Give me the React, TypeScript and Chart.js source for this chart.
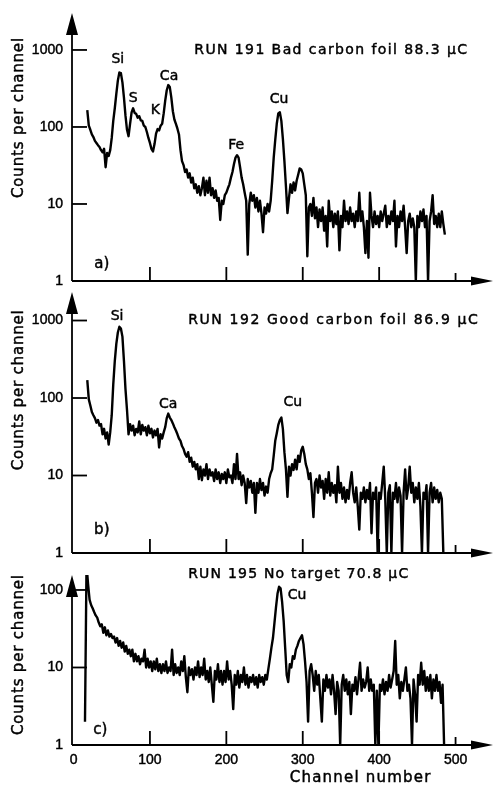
import { useEffect, useRef } from 'react';
import { Chart, registerables } from 'chart.js';

Chart.register(...registerables);

// ---------- data (counts per channel; one sample every 2 channels) ----------
const channelStep = 2;

const run191Start = 18;
const run191Counts = [
  166, 104, 92, 80, 74, 66, 62, 58, 55, 50,
  47, 52, 30, 46, 42, 50, 72, 120, 175, 270,
  400, 510, 500, 380, 240, 140, 92, 76, 110, 155,
  175, 152, 148, 132, 138, 122, 120, 104, 100, 86,
  72, 62, 52, 48, 60, 82, 94, 90, 104, 110,
  150, 220, 300, 350, 330, 240, 160, 125, 110, 95,
  80, 50, 36, 32, 26, 28, 22, 25, 19, 22,
  16, 18, 14, 17, 13, 16, 22, 13, 20, 14,
  22, 13, 16, 12, 15, 11, 12, 6.2, 11, 10,
  13, 14, 16, 18, 22, 26, 33, 40, 43, 40,
  30, 22, 18, 14, 11, 2.2, 10, 14, 11, 13,
  9, 12, 8, 11, 7.5, 4.3, 9, 7.5, 10, 8,
  11, 20, 40, 68, 110, 150, 155, 120, 70, 36,
  17, 7.6, 12, 18, 14, 19, 15, 20, 24, 29,
  28, 25, 18, 13, 2.1, 9, 10, 7, 12, 6.5,
  9, 5, 8.5, 6, 9, 4.5, 7, 2.8, 11, 6,
  8, 5, 7.5, 5.5, 8, 2.5, 7, 5, 11, 6,
  8, 5.5, 9, 6, 7.5, 5, 8, 6, 14, 6,
  8, 5, 2.3, 6, 2, 14, 7, 5, 8, 5.5,
  7, 5, 8, 6, 7.5, 9.5, 5, 7, 5.5, 8,
  6, 11, 2.8, 7, 5, 8, 6, 9.5, 5, 2.3,
  6, 7.5, 5, 6.5, 5, 1, 7, 5, 8, 6,
  8.5, 5, 7, 1, 6, 8, 13, 5.5, 7, 5,
  7.5, 5, 8, 5.5, 4,
];

const run192Start = 18;
const run192Counts = [
  170, 96, 80, 66, 60, 55, 48, 52, 44, 46,
  34, 40, 30, 36, 25, 36, 60, 150, 300, 500,
  700, 830, 790, 620, 300, 130, 70, 34, 46, 38,
  44, 33, 40, 36, 50, 34, 45, 38, 42, 33,
  44, 35, 40, 31, 38, 33, 40, 23, 34, 30,
  36, 42, 55, 63, 56, 52, 47, 42, 38, 34,
  30, 28, 24, 22, 19, 17.5, 20, 15, 17, 13,
  15, 12, 14, 9, 13, 8.7, 12, 10, 14, 9,
  12, 10, 11, 8.5, 12, 9, 11, 8, 10.5, 9,
  11, 8, 12, 9.5, 10, 8, 14, 9, 19, 9,
  11, 7.5, 10, 8, 4.4, 9, 7, 8.5, 6, 8,
  3.3, 8, 6, 9, 6.5, 8, 5.5, 7.2, 6, 9,
  10.7, 12, 18, 28, 35, 45, 52, 56, 40, 20,
  12, 5.3, 13, 10, 14, 11.8, 16, 12, 18, 15,
  21, 23.5, 19, 14, 12, 9, 10.7, 6, 2.9, 8,
  9, 6, 10, 7, 8.5, 5, 9, 6, 11, 5.5,
  8, 6, 7.5, 4.5, 13, 6, 8, 5, 7, 4.5,
  6.5, 5, 8, 11, 6, 4.5, 7, 4, 2, 6,
  5, 7, 4.5, 6.5, 5, 8, 1.8, 6, 5, 7,
  1, 6, 5, 8, 13, 5, 1, 6, 7.5, 1,
  6, 5, 8, 4.5, 7, 5.5, 1, 6, 12, 5,
  7, 13, 6, 8, 4.5, 7, 5, 8, 4, 1,
  6, 5, 7.5, 1, 6, 8, 4.5, 7, 5, 6.5,
  4.5, 6, 5, 1,
];

const run195Start = 15;
const run195Counts = [
  2, 210, 120, 75, 64, 58, 52, 47, 44, 38,
  34, 36, 28, 33, 26, 30, 25, 27, 24, 25,
  21, 24, 19, 22, 18, 21, 16, 19, 15, 17,
  14, 17, 12, 15, 12, 14, 11, 13, 12, 17,
  10, 13, 10, 12, 9, 12, 9.5, 13, 9, 11,
  8.5, 11, 9, 12, 8.5, 10, 9, 17, 8, 11,
  8.5, 10, 8, 12, 9, 14, 7.5, 4.8, 10, 8,
  9.5, 7, 10, 8, 12, 7.5, 10, 8, 13, 7,
  9, 6.5, 10, 6, 3.6, 9, 7, 11, 6.5, 9,
  6, 9, 6.5, 12, 7, 9, 6, 2.9, 8, 6,
  9, 5.5, 8, 6.5, 10, 6, 8, 5.5, 7.5, 6.5,
  8, 6, 7.5, 5.5, 8, 6.5, 7.5, 6, 8, 7,
  9.6, 13, 18, 24, 38, 60, 90, 110, 105, 70,
  40, 18, 8, 6.5, 11, 10, 14, 13, 17, 19,
  22, 24, 26, 20, 12, 6.5, 2, 9, 11, 8,
  5, 9, 6, 8, 4, 2, 7, 5, 8, 5.5,
  7, 4.5, 8, 5, 2.5, 6.5, 5, 1, 6, 8,
  5, 7, 4.5, 6.5, 2.5, 6, 5, 7.5, 4.5, 7,
  11.5, 5, 7, 5.5, 6.5, 10, 5, 7, 5, 6,
  1, 5, 1, 6, 5, 7, 4.5, 6.5, 5, 8,
  5.5, 7, 9, 22, 6, 8, 4, 6.5, 5, 7,
  10, 5, 6, 4, 1, 7, 4.5, 2, 8, 6,
  11.5, 6, 9, 5, 7.5, 5, 8, 4, 7, 5,
  8, 5, 6.5, 3.5, 6, 1,
];

const decadeTicks = [1, 10, 100, 1000];
const channelTicks = [0, 100, 200, 300, 400, 500];

// peak annotations: [label, channel, counts]
const peaks191: [string, number, number][] = [
  ['Si', 58, 760], ['S', 78, 238], ['K', 107, 166], ['Ca', 125, 460], ['Fe', 213, 58], ['Cu', 269, 230],
];
const peaks192: [string, number, number][] = [
  ['Si', 57, 1140], ['Ca', 124, 84], ['Cu', 287, 89],
];
const peaks195: [string, number, number][] = [['Cu', 292.5, 86]];

const FONT = '"DejaVu Sans", sans-serif';
const NUMFONT = '"Liberation Sans", sans-serif';

type PanelCfg = {
  top: number; height: number; padTop: number; padBottom: number;
  yMax: number; start: number; counts: number[];
  title: string; titleFrom: number; titleTo: number; titleLevel: number;
  peaks: [string, number, number][];
  letter: string; letterAt: [number, number];
  yTitleLevel: number;
  xLabels: boolean;
};

const panels: PanelCfg[] = [
  {
    top: 0, height: 300, padTop: 13, padBottom: 19, yMax: 3020,
    start: run191Start, counts: run191Counts,
    title: 'RUN 191 Bad carbon foil 88.3 µC', titleFrom: 158, titleTo: 515, titleLevel: 1000,
    peaks: peaks191, letter: 'a)', letterAt: [37, 1.66], yTitleLevel: 131, xLabels: false,
  },
  {
    top: 285, height: 285, padTop: 7, padBottom: 17, yMax: 2333,
    start: run192Start, counts: run192Counts,
    title: 'RUN 192 Good carbon foil 86.9 µC', titleFrom: 150, titleTo: 529, titleLevel: 1000,
    peaks: peaks192, letter: 'b)', letterAt: [37, 2.0], yTitleLevel: 126, xLabels: false,
  },
  {
    top: 568, height: 217, padTop: 7, padBottom: 40, yMax: 156,
    start: run195Start, counts: run195Counts,
    title: 'RUN 195 No target 70.8 µC', titleFrom: 150, titleTo: 438, titleLevel: 160,
    peaks: peaks195, letter: 'c)', letterAt: [35, 1.56], yTitleLevel: 14.5, xLabels: true,
  },
];

// filled + lightly stroked text, to get the heavy lettering of the printed figure
function inkText(ctx: CanvasRenderingContext2D, text: string, x: number, y: number) {
  ctx.fillText(text, x, y);
  ctx.save();
  ctx.lineWidth = 0.45;
  ctx.strokeText(text, x, y);
  ctx.restore();
}

function fitText(ctx: CanvasRenderingContext2D, text: string, x: number, y: number, width: number) {
  (ctx as any).letterSpacing = '0px';
  const w = ctx.measureText(text).width;
  const extra = (width - w) / Math.max(1, text.length - 1);
  (ctx as any).letterSpacing = `${extra}px`;
  inkText(ctx, text, x, y);
  (ctx as any).letterSpacing = '0px';
}

const paperAxes = {
  id: 'paperAxes',
  afterDraw(chart: any, _args: any, opts: any) {
    const p: PanelCfg = opts.panel;
    const { ctx, chartArea: ca } = chart;
    const x = chart.scales.x;
    const y = chart.scales.y;
    const x0 = ca.left;
    const yb = ca.bottom;
    ctx.save();
    ctx.strokeStyle = '#000';
    ctx.fillStyle = '#000';
    ctx.lineWidth = 1.8;
    ctx.lineCap = 'butt';

    // y axis with arrow
    ctx.beginPath();
    ctx.moveTo(x0, yb);
    ctx.lineTo(x0, ca.top + 16);
    ctx.stroke();
    ctx.beginPath();
    ctx.moveTo(x0, ca.top);
    ctx.lineTo(x0 - 6, ca.top + 22);
    ctx.lineTo(x0 + 6, ca.top + 22);
    ctx.closePath();
    ctx.fill();

    // x axis with arrow
    ctx.beginPath();
    ctx.moveTo(x0, yb);
    ctx.lineTo(ca.right - 18, yb);
    ctx.stroke();
    ctx.beginPath();
    ctx.moveTo(ca.right, yb);
    ctx.lineTo(ca.right - 22, yb - 4.5);
    ctx.lineTo(ca.right - 22, yb + 4.5);
    ctx.closePath();
    ctx.fill();

    // y ticks & labels
    ctx.font = `14px ${NUMFONT}`;
    ctx.textAlign = 'right';
    ctx.textBaseline = 'middle';
    decadeTicks.forEach((v) => {
      if (v > y.max) return;
      const py = y.getPixelForValue(v);
      if (v > 1) {
        ctx.beginPath();
        ctx.moveTo(x0, py);
        ctx.lineTo(x0 + 15, py);
        ctx.stroke();
      }
      inkText(ctx, String(v), x0 - 9, py);
    });

    // x ticks & labels
    ctx.textAlign = 'center';
    channelTicks.forEach((c) => {
      const px = x.getPixelForValue(c);
      if (c > 0) {
        ctx.beginPath();
        ctx.moveTo(px, yb);
        ctx.lineTo(px, yb - (c === 500 ? 8 : 14));
        ctx.stroke();
      }
      if (p.xLabels) inkText(ctx, String(c), px, yb + 15);
    });

    // y-axis title
    ctx.save();
    ctx.font = `15px ${FONT}`;
    ctx.translate(19, y.getPixelForValue(p.yTitleLevel));
    ctx.rotate(-Math.PI / 2);
    ctx.textAlign = 'left';
    ctx.textBaseline = 'middle';
    fitText(ctx, 'Counts per channel', -80, 0, 160);
    ctx.restore();

    // run title
    ctx.font = `14px ${FONT}`;
    ctx.textAlign = 'left';
    ctx.textBaseline = 'middle';
    const tx0 = x.getPixelForValue(p.titleFrom);
    const tx1 = x.getPixelForValue(p.titleTo);
    fitText(ctx, p.title, tx0, y.getPixelForValue(p.titleLevel), tx1 - tx0);

    // peak labels
    ctx.textAlign = 'center';
    ctx.font = `14px ${FONT}`;
    p.peaks.forEach(([lab, ch, lv]) => {
      inkText(ctx, lab, x.getPixelForValue(ch), y.getPixelForValue(lv));
    });

    // panel letter
    ctx.font = `15px ${FONT}`;
    inkText(ctx, p.letter, x.getPixelForValue(p.letterAt[0]), y.getPixelForValue(p.letterAt[1]));

    // x-axis title
    if (p.xLabels) {
      ctx.font = `15px ${FONT}`;
      ctx.textAlign = 'left';
      const a = x.getPixelForValue(283);
      const b = x.getPixelForValue(467);
      fitText(ctx, 'Channel number', a, yb + 33, b - a);
    }
    ctx.restore();
  },
};

function Panel({ cfg }: { cfg: PanelCfg }) {
  const ref = useRef<HTMLCanvasElement | null>(null);
  useEffect(() => {
    if (!ref.current) return;
    const data = cfg.counts.map((v, i) => ({ x: cfg.start + i * channelStep, y: v }));
    const chart = new Chart(ref.current, {
      type: 'line',
      data: {
        datasets: [
          {
            data,
            borderColor: '#000',
            borderWidth: 2.4,
            pointRadius: 0,
            tension: 0,
            borderJoinStyle: 'round',
            fill: false,
          },
        ],
      },
      options: {
        animation: false,
        responsive: false,
        devicePixelRatio: 1,
        events: [],
        layout: { padding: { left: 72, right: 0, top: cfg.padTop, bottom: cfg.padBottom } },
        scales: {
          x: { type: 'linear', min: -2, max: 549, display: false },
          y: { type: 'logarithmic', min: 1, max: cfg.yMax, display: false },
        },
        plugins: {
          legend: { display: false },
          tooltip: { enabled: false },
          paperAxes: { panel: cfg },
        } as any,
      },
      plugins: [paperAxes],
    });
    return () => chart.destroy();
  }, [cfg]);
  return (
    <canvas
      ref={ref}
      width={493}
      height={cfg.height}
      style={{ position: 'absolute', left: 0, top: cfg.top, width: 493, height: cfg.height }}
    />
  );
}

export default function App() {
  return (
    <div style={{ position: 'absolute', left: 0, top: 0, width: 493, height: 785, background: '#fff' }}>
      {panels.map((p, i) => (
        <Panel key={i} cfg={p} />
      ))}
    </div>
  );
}
